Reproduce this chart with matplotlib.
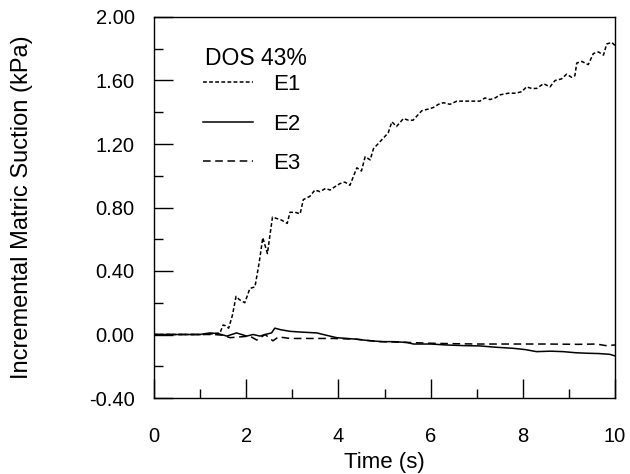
import matplotlib
matplotlib.use("Agg")
import matplotlib.pyplot as plt
from matplotlib.ticker import MultipleLocator, FormatStrFormatter

plt.rcParams['font.family'] = ['Liberation Sans', 'DejaVu Sans']

legend_title = "DOS 43%"
series_names = ["E1", "E2", "E3"]

t_e1 = [0, 0.5, 1.0, 1.3, 1.43, 1.5, 1.55, 1.62, 1.7, 1.78,
        1.85, 1.97, 2.08, 2.19, 2.28, 2.36, 2.46, 2.57, 2.67, 2.77,
        2.89, 2.95, 3.06, 3.17, 3.24, 3.38, 3.49, 3.6, 3.72, 3.82,
        3.92, 4.03, 4.14, 4.25, 4.40, 4.50, 4.58, 4.69, 4.76, 4.92,
        5.08, 5.16, 5.26, 5.41, 5.52, 5.62, 5.81, 5.95, 6.06, 6.17,
        6.28, 6.42, 6.57, 6.7, 6.85, 7.07, 7.18, 7.29, 7.40, 7.51,
        7.69, 7.85, 7.98, 8.08, 8.19, 8.30, 8.45, 8.59, 8.70, 8.84,
        8.95, 9.06, 9.13, 9.17, 9.28, 9.42, 9.53, 9.64, 9.75, 9.82,
        9.93, 10.0]
e1 = [0, 0, 0, 0.005, 0.01, 0.06, 0.055, 0.04, 0.12, 0.24,
      0.22, 0.20, 0.29, 0.30, 0.45, 0.61, 0.51, 0.74, 0.73, 0.72,
      0.70, 0.77, 0.77, 0.76, 0.85, 0.87, 0.91, 0.90, 0.92, 0.91,
      0.93, 0.95, 0.96, 0.94, 1.05, 1.03, 1.12, 1.10, 1.17, 1.22,
      1.27, 1.34, 1.31, 1.36, 1.35, 1.35, 1.41, 1.42, 1.43, 1.45,
      1.46, 1.45, 1.47, 1.47, 1.47, 1.47, 1.49, 1.48, 1.49, 1.51,
      1.52, 1.52, 1.53, 1.56, 1.55, 1.55, 1.58, 1.56, 1.60, 1.61,
      1.64, 1.62, 1.63, 1.71, 1.72, 1.70, 1.77, 1.78, 1.76, 1.83,
      1.84, 1.82]

t_e2 = [0, 0.5, 1.0, 1.21, 1.4, 1.58, 1.79, 2.01, 2.15, 2.30,
        2.41, 2.55, 2.62, 2.75, 2.95, 3.2, 3.53, 3.67, 3.96, 4.2,
        4.40, 4.7, 4.97, 5.2, 5.48, 5.63, 6.0, 6.35, 6.7, 7.07,
        7.4, 7.79, 8.05, 8.30, 8.6, 8.88, 9.15, 9.39, 9.65, 9.89,
        10.0]
e2 = [0, 0, 0, 0.01, 0.005, -0.01, 0.01, -0.01, 0.0, -0.01,
      0.0, 0.01, 0.04, 0.03, 0.02, 0.015, 0.01, 0.0, -0.02, -0.025,
      -0.03, -0.04, -0.045, -0.045, -0.05, -0.06, -0.06, -0.066, -0.07, -0.072,
      -0.08, -0.087, -0.095, -0.108, -0.105, -0.108, -0.115, -0.118, -0.12, -0.125,
      -0.135]

t_e3 = [0, 0.5, 1.0, 1.3, 1.5, 1.65, 1.87, 2.08, 2.23, 2.41,
        2.58, 2.70, 2.95, 3.4, 3.89, 4.40, 4.90, 5.5, 6.0, 6.5,
        7.07, 7.79, 8.52, 9.2, 9.6, 9.8, 10.0]
e3 = [0, 0, 0, 0.0, -0.005, -0.02, -0.015, -0.01, -0.035, 0.0,
      -0.04, -0.015, -0.025, -0.025, -0.025, -0.03, -0.045, -0.05, -0.055, -0.058,
      -0.06, -0.06, -0.06, -0.062, -0.06, -0.07, -0.066]

fig = plt.figure(figsize=(6.3, 4.74), dpi=100)
ax = fig.add_axes([154/630, 1-398/474, (615-154)/630, (398-17)/474])

ax.plot(t_e1, e1, color='black', lw=1.1, linestyle=(0, (2.5, 1.5)), label=series_names[0])
ax.plot(t_e2, e2, color='black', lw=1.1, linestyle='-', label=series_names[1])
ax.plot(t_e3, e3, color='black', lw=1.1, linestyle=(0, (5, 3)), label=series_names[2])

ax.set_xlim(0, 10)
ax.set_ylim(-0.4, 2.0)
ax.xaxis.set_major_locator(MultipleLocator(2))
ax.xaxis.set_minor_locator(MultipleLocator(1))
ax.yaxis.set_major_locator(MultipleLocator(0.4))
ax.yaxis.set_minor_locator(MultipleLocator(0.2))
ax.yaxis.set_major_formatter(FormatStrFormatter('%.2f'))
ax.tick_params(which='both', direction='in', top=False, right=False, width=1, colors='black')
ax.tick_params(which='major', length=13.5, labelsize=14.5)
ax.tick_params(which='minor', length=6.5)
ax.tick_params(axis='y', which='major', pad=14)
ax.tick_params(axis='x', which='major', pad=21)
for s in ax.spines.values():
    s.set_linewidth(1.0)

ax.set_xlabel("Time (s)", fontsize=16, labelpad=4)
ax.set_ylabel("Incremental Matric Suction (kPa)", fontsize=17, labelpad=40)

ax.text(0.1106, 0.89, legend_title, transform=ax.transAxes, fontsize=16.5,
        ha='left', va='center')
leg = ax.legend(loc='upper left', bbox_to_anchor=(0.1063, 0.850),
                fontsize=16, frameon=False, handlelength=2.25,
                handletextpad=0.9, labelspacing=0.83, borderpad=0, borderaxespad=0)

fig.savefig("out.png", dpi=100)
